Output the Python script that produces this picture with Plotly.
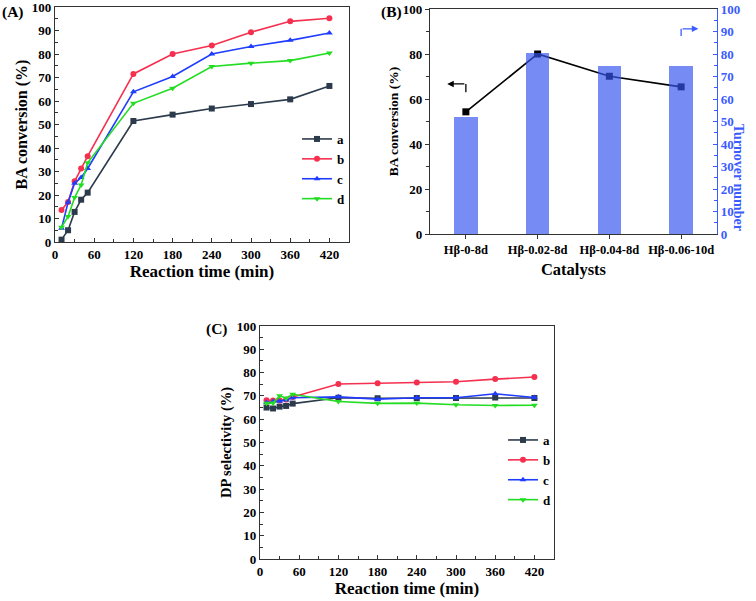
import plotly.graph_objects as go

# ---------------- data ----------------
time = [10, 20, 30, 40, 50, 120, 180, 240, 300, 360, 420]
series_names = ["a", "b", "c", "d"]

conv_a = [1.0, 5.0, 12.8, 18.0, 21.0, 51.5, 54.2, 56.8, 58.7, 60.7, 66.4]
conv_b = [13.6, 17.0, 25.8, 31.3, 36.5, 71.5, 80.0, 83.6, 89.3, 93.9, 95.2]
conv_c = [5.8, 16.9, 25.0, 27.4, 31.3, 63.9, 70.4, 80.0, 83.2, 85.8, 88.9]
conv_d = [6.3, 10.8, 18.9, 24.3, 33.7, 59.0, 65.4, 74.7, 76.1, 77.2, 80.4]

sel_a = [65.0, 64.6, 65.4, 65.7, 66.7, 69.2, 69.0, 69.1, 69.1, 69.3, 69.1]
sel_b = [68.1, 68.0, 68.0, 68.5, 69.5, 75.1, 75.4, 75.7, 76.1, 77.2, 78.1]
sel_c = [67.2, 67.6, 67.7, 68.2, 69.2, 69.6, 68.6, 69.2, 69.2, 70.9, 69.3]
sel_d = [66.8, 66.9, 70.1, 69.0, 70.7, 67.6, 66.8, 66.9, 66.2, 65.9, 66.0]

catalysts = ["Hβ-0-8d", "Hβ-0.02-8d", "Hβ-0.04-8d", "Hβ-0.06-10d"]
ba_conversion = [54.3, 80.0, 70.1, 65.4]
turnover = [52.0, 80.6, 74.8, 74.8]

colors = ["#2c3b4b", "#f5304f", "#1f3cff", "#22dd22"]
symbols = ["square", "circle", "triangle-up", "triangle-down"]

FONT = "Liberation Serif"
W, H = 756, 601
BLUE = "#3a5cff"


def px_x(p):
    return p / W


def px_y(p):
    return 1 - p / H


fig = go.Figure()

# ---------------- panel A ----------------
for name, vals, c, s in zip(series_names, [conv_a, conv_b, conv_c, conv_d], colors, symbols):
    fig.add_trace(go.Scatter(
        x=time, y=vals, name=name, mode="lines+markers",
        line=dict(color=c, width=1.6), marker=dict(color=c, symbol=s, size=6),
        xaxis="x", yaxis="y", legend="legend"))

# ---------------- panel B ----------------
fig.add_trace(go.Scatter(
    x=catalysts, y=ba_conversion, mode="lines+markers", showlegend=False,
    line=dict(color="black", width=1.6), marker=dict(color="black", symbol="square", size=7),
    xaxis="x2", yaxis="y2"))
fig.add_trace(go.Bar(
    x=catalysts, y=turnover, width=0.33, showlegend=False,
    marker=dict(color="rgb(55,85,240)", line=dict(width=0)), opacity=0.68,
    xaxis="x2", yaxis="y3"))

# ---------------- panel C ----------------
for name, vals, c, s in zip(series_names, [sel_a, sel_b, sel_c, sel_d], colors, symbols):
    fig.add_trace(go.Scatter(
        x=time, y=vals, name=name, mode="lines+markers",
        line=dict(color=c, width=1.6), marker=dict(color=c, symbol=s, size=6),
        xaxis="x3", yaxis="y4", legend="legend2"))

tickfont = dict(family=FONT, size=13, color="black", weight="bold")


def tfont(size, color="black"):
    return dict(family=FONT, size=size, color=color, weight="bold")


common_axis = dict(showline=True, linecolor="#333", linewidth=1.2, ticks="inside",
                   ticklen=4, tickwidth=1.1, tickcolor="#333", showgrid=False,
                   zeroline=False, tickfont=tickfont, automargin=False,
                   ticklabeloverflow="allow")

minor_in = dict(ticks="inside", ticklen=2.5, tickcolor="#333")

time_axis = dict(common_axis, range=[0, 450], tickvals=[0, 60, 120, 180, 240, 300, 360, 420],
                 minor=dict(minor_in, dtick=30, tick0=0), mirror=True)
pct_axis10 = dict(common_axis, range=[0, 100], dtick=10,
                  minor=dict(minor_in, dtick=5), mirror=True)

fig.update_layout(
    width=W, height=H, margin=dict(l=0, r=0, t=0, b=0),
    plot_bgcolor="white", paper_bgcolor="white",
    font=dict(family=FONT, color="black"),
    xaxis=dict(time_axis, domain=[px_x(55), px_x(349)], anchor="y",
               title=dict(text="Reaction time (min)", font=tfont(17), standoff=3)),
    yaxis=dict(pct_axis10, domain=[px_y(242), px_y(7)], anchor="x",
               title=dict(text="BA conversion (%)", font=tfont(16), standoff=0)),
    xaxis2=dict(common_axis, domain=[px_x(430), px_x(717)], anchor="y2", type="category",
                range=[-0.5, 3.5], mirror=True, ticks="outside",
                tickfont=tfont(12.5),
                title=dict(text="Catalysts", font=tfont(16.5), standoff=7)),
    yaxis2=dict(common_axis, domain=[px_y(234), px_y(9)], anchor="x2", range=[0, 100], dtick=20,
                ticks="outside", minor=dict(dtick=10, ticks="outside", ticklen=2.5, tickcolor="#333"),
                title=dict(text="BA conversion (%)", font=tfont(13.5), standoff=1)),
    yaxis3=dict(showline=True, linecolor=BLUE, linewidth=1.2, ticks="inside", ticklen=4,
                tickcolor=BLUE, showgrid=False, zeroline=False, automargin=False,
                ticklabeloverflow="allow",
                overlaying="y2", side="right", anchor="x2", range=[0, 100], dtick=10,
                minor=dict(dtick=5, ticks="inside", ticklen=2.5, tickcolor=BLUE),
                tickfont=tfont(13, BLUE)),
    xaxis3=dict(time_axis, domain=[px_x(260), px_x(554)], anchor="y4",
                title=dict(text="Reaction time (min)", font=tfont(17), standoff=3)),
    yaxis4=dict(pct_axis10, domain=[px_y(559), px_y(326)], anchor="x3",
                title=dict(text="DP selectivity (%)", font=tfont(14.5), standoff=1)),
    legend=dict(x=px_x(297), y=px_y(124), xanchor="left", yanchor="top",
                bgcolor="rgba(0,0,0,0)", tracegroupgap=0, itemwidth=30,
                font=tfont(13)),
    legend2=dict(x=px_x(503), y=px_y(425), xanchor="left", yanchor="top",
                 bgcolor="rgba(0,0,0,0)", tracegroupgap=0, itemwidth=30,
                 font=tfont(13)),
    bargap=0,
)

panel_font = tfont(15.5)
annotations = [
    dict(text="(A)", x=px_x(0), y=px_y(1), xref="paper", yref="paper",
         xanchor="left", yanchor="top", showarrow=False, font=panel_font),
    dict(text="(B)", x=px_x(379), y=px_y(1), xref="paper", yref="paper",
         xanchor="left", yanchor="top", showarrow=False, font=panel_font),
    dict(text="(C)", x=px_x(204), y=px_y(318), xref="paper", yref="paper",
         xanchor="left", yanchor="top", showarrow=False, font=panel_font),
    dict(text="Turnover number", x=px_x(748), y=px_y(122),
         xref="paper", yref="paper", textangle=90, showarrow=False,
         font=tfont(14, BLUE)),
    # left arrow (points to left axis)
    dict(x=-0.26, y=66.7, ax=0, ay=66.7, xref="x2", yref="y2", axref="x2", ayref="y2",
         text="", showarrow=True, arrowhead=2, arrowsize=1, arrowwidth=1.3, arrowcolor="black"),
    # right arrow (points to right axis)
    dict(x=3.24, y=91.2, ax=3.0, ay=91.2, xref="x2", yref="y2", axref="x2", ayref="y2",
         text="", showarrow=True, arrowhead=2, arrowsize=1, arrowwidth=1.3, arrowcolor=BLUE),
]
fig.update_layout(annotations=annotations)

fig.update_layout(shapes=[
    dict(type="line", xref="x2", yref="y2", x0=0, x1=0, y0=63.0, y1=66.7,
         line=dict(color="black", width=1.3)),
    dict(type="line", xref="x2", yref="y2", x0=3.0, x1=3.0, y0=88.0, y1=91.2,
         line=dict(color=BLUE, width=1.3)),
])

fig.write_html("out.html")
